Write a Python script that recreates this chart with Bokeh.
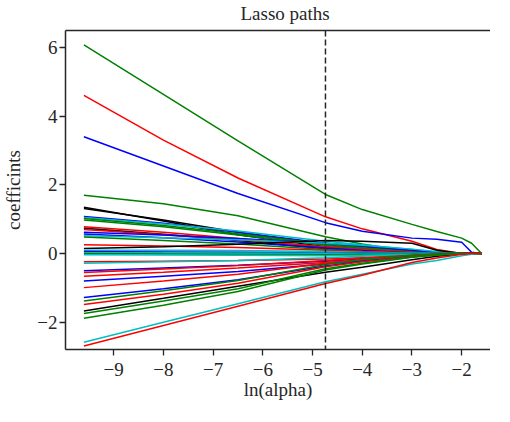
from bokeh.plotting import figure
from bokeh.models import Span, LinearAxis, FixedTicker, Range1d
from bokeh.embed import file_html
from bokeh.resources import INLINE

# ln(alpha) grid at which the coefficient paths are read
log_alpha = [-9.6, -8.0, -6.5, -4.74, -4.0, -3.0, -2.5, -2.0, -1.8, -1.6]

# coefficient paths (values at log_alpha points)
c01 = [6.07, 4.63, 3.28, 1.72, 1.28, 0.85, 0.64, 0.45, 0.30, 0.00]
c02 = [4.60, 3.30, 2.20, 1.07, 0.72, 0.36, 0.12, 0.00, 0.00, 0.00]
c03 = [3.40, 2.55, 1.75, 0.90, 0.65, 0.45, 0.42, 0.33, 0.04, 0.00]
c04 = [1.70, 1.45, 1.10, 0.49, 0.28, 0.05, 0.00, 0.00, 0.00, 0.00]
c05 = [1.35, 0.95, 0.55, 0.20, 0.10, 0.01, 0.00, 0.00, 0.00, 0.00]
c06 = [1.31, 0.98, 0.62, 0.26, 0.14, 0.03, 0.00, 0.00, 0.00, 0.00]
c07 = [1.08, 0.88, 0.62, 0.30, 0.20, 0.07, 0.02, 0.00, 0.00, 0.00]
c08 = [1.05, 0.86, 0.66, 0.36, 0.26, 0.12, 0.05, 0.00, 0.00, 0.00]
c09 = [1.02, 0.82, 0.58, 0.28, 0.18, 0.06, 0.01, 0.00, 0.00, 0.00]
c10 = [0.98, 0.78, 0.54, 0.24, 0.14, 0.04, 0.00, 0.00, 0.00, 0.00]
c11 = [0.78, 0.62, 0.44, 0.18, 0.10, 0.02, 0.00, 0.00, 0.00, 0.00]
c12 = [0.74, 0.56, 0.38, 0.14, 0.06, 0.00, 0.00, 0.00, 0.00, 0.00]
c13 = [0.70, 0.55, 0.40, 0.20, 0.12, 0.04, 0.01, 0.00, 0.00, 0.00]
c14 = [0.62, 0.54, 0.44, 0.30, 0.22, 0.10, 0.04, 0.00, 0.00, 0.00]
c15 = [0.57, 0.46, 0.34, 0.16, 0.09, 0.02, 0.00, 0.00, 0.00, 0.00]
c16 = [0.52, 0.46, 0.40, 0.30, 0.24, 0.13, 0.06, 0.01, 0.00, 0.00]
c17 = [0.48, 0.38, 0.28, 0.12, 0.06, 0.01, 0.00, 0.00, 0.00, 0.00]
c18 = [0.26, 0.22, 0.18, 0.10, 0.06, 0.02, 0.00, 0.00, 0.00, 0.00]
c19 = [0.15, 0.20, 0.27, 0.38, 0.36, 0.30, 0.10, 0.00, 0.00, 0.00]
c20 = [0.10, 0.10, 0.09, 0.06, 0.04, 0.02, 0.01, 0.00, 0.00, 0.00]
c21 = [0.06, 0.05, 0.04, 0.02, 0.01, 0.00, 0.00, 0.00, 0.00, 0.00]
c22 = [0.02, 0.02, 0.02, 0.01, 0.00, 0.00, 0.00, 0.00, 0.00, 0.00]
c23 = [0.00, -0.01, -0.02, -0.03, -0.02, -0.01, 0.00, 0.00, 0.00, 0.00]
c24 = [-0.03, -0.04, -0.05, -0.06, -0.05, -0.03, -0.01, 0.00, 0.00, 0.00]
c25 = [-0.24, -0.22, -0.20, -0.16, -0.12, -0.06, -0.03, 0.00, 0.00, 0.00]
c26 = [-0.28, -0.24, -0.20, -0.12, -0.08, -0.03, -0.01, 0.00, 0.00, 0.00]
c27 = [-0.50, -0.42, -0.34, -0.22, -0.15, -0.06, -0.02, 0.00, 0.00, 0.00]
c28 = [-0.55, -0.45, -0.35, -0.20, -0.13, -0.05, -0.02, 0.00, 0.00, 0.00]
c29 = [-0.66, -0.54, -0.42, -0.26, -0.18, -0.07, -0.03, 0.00, 0.00, 0.00]
c30 = [-0.80, -0.66, -0.52, -0.30, -0.20, -0.08, -0.03, 0.00, 0.00, 0.00]
c31 = [-0.99, -0.80, -0.60, -0.28, -0.17, -0.06, -0.02, 0.00, 0.00, 0.00]
c32 = [-1.28, -1.02, -0.76, -0.36, -0.22, -0.08, -0.03, 0.00, 0.00, 0.00]
c33 = [-1.38, -1.08, -0.78, -0.32, -0.18, -0.05, -0.01, 0.00, 0.00, 0.00]
c34 = [-1.48, -1.18, -0.86, -0.38, -0.24, -0.09, -0.03, 0.00, 0.00, 0.00]
c35 = [-1.67, -1.30, -0.95, -0.54, -0.40, -0.18, -0.08, -0.01, 0.00, 0.00]
c36 = [-1.74, -1.38, -1.02, -0.44, -0.28, -0.10, -0.04, 0.00, 0.00, 0.00]
c37 = [-1.88, -1.50, -1.10, -0.48, -0.30, -0.11, -0.04, 0.00, 0.00, 0.00]
c38 = [-2.58, -2.00, -1.46, -0.82, -0.60, -0.30, -0.20, -0.06, -0.02, 0.00]
c39 = [-2.69, -2.09, -1.53, -0.87, -0.63, -0.26, -0.13, -0.02, 0.00, 0.00]

paths = [c01, c02, c03, c04, c05, c06, c07, c08, c09, c10, c11, c12, c13,
         c14, c15, c16, c17, c18, c19, c20, c21, c22, c23, c24, c25, c26,
         c27, c28, c29, c30, c31, c32, c33, c34, c35, c36, c37, c38, c39]
path_colors = ["g", "r", "b", "g", "k", "k", "b", "c", "g", "g", "r", "k", "r",
               "b", "b", "c", "g", "r", "k", "c", "b", "c", "g", "c", "r", "c",
               "b", "r", "r", "b", "r", "b", "g", "r", "k", "g", "g", "c", "r"]

chosen_log_alpha = -4.74
x_ticks = [-9, -8, -7, -6, -5, -4, -3, -2]
y_ticks = [-2, 0, 2, 4, 6]

cmap = {"b": "#0000ff", "g": "#008000", "r": "#ff0000", "c": "#00bfbf", "k": "#000000"}
FONT = "Liberation Serif"
AX = "#262626"

p = figure(width=490, height=402, output_backend="svg", toolbar_location=None,
           x_range=Range1d(-9.97, -1.42), y_range=Range1d(-2.79, 6.49),
           min_border_left=59, min_border_right=0, min_border_top=0, min_border_bottom=0,
           title="Lasso paths")
p.outline_line_color = None
p.grid.visible = False
p.background_fill_color = "white"
p.border_fill_color = "white"

p.title.text_font = FONT
p.title.text_font_size = "19px"
p.title.text_font_style = "normal"
p.title.text_color = AX
p.title.align = "left"
p.title.offset = 175
p.title.standoff = 0

for vals, col in zip(paths, path_colors):
    p.line(log_alpha, vals, line_color=cmap[col], line_width=1.5)

p.add_layout(Span(location=chosen_log_alpha, dimension="height", line_color=AX,
                  line_width=1.5, line_dash="6 3"))

for ax in (p.xaxis[0], p.yaxis[0]):
    ax.axis_line_color = AX
    ax.axis_line_width = 1.5
    ax.major_tick_line_color = AX
    ax.major_tick_line_width = 1.3
    ax.major_tick_out = 6
    ax.major_tick_in = 0
    ax.minor_tick_line_color = None
    ax.major_label_text_font = FONT
    ax.major_label_text_font_size = "19px"
    ax.major_label_text_color = AX
    ax.axis_label_text_font = FONT
    ax.axis_label_text_font_size = "19px"
    ax.axis_label_text_font_style = "normal"
    ax.axis_label_text_color = AX

p.xaxis[0].major_label_standoff = 7
p.yaxis[0].major_label_standoff = 2
p.xaxis[0].ticker = FixedTicker(ticks=x_ticks)
p.yaxis[0].ticker = FixedTicker(ticks=y_ticks)
p.xaxis[0].axis_label = "ln(alpha)"
p.xaxis[0].axis_label_standoff = 0
p.yaxis[0].axis_label = "coefficints"
p.yaxis[0].axis_label_standoff = 10
p.yaxis[0].major_label_orientation = "horizontal"
p.xaxis[0].major_label_overrides = {t: str(t).replace("-", "\u2212") for t in x_ticks}
p.yaxis[0].major_label_overrides = {t: str(t).replace("-", "\u2212") for t in y_ticks}

# top spine: an axis whose (invisible) ticks only reserve a little space
top = LinearAxis(ticker=FixedTicker(ticks=x_ticks), axis_line_color=AX, axis_line_width=1.5,
                 major_tick_line_alpha=0, major_tick_out=7, major_tick_in=0,
                 minor_tick_line_color=None, major_label_standoff=0,
                 major_label_text_font_size="0px", major_label_text_alpha=0)
p.add_layout(top, "above")

open("out.html", "w").write(file_html(p, INLINE))
